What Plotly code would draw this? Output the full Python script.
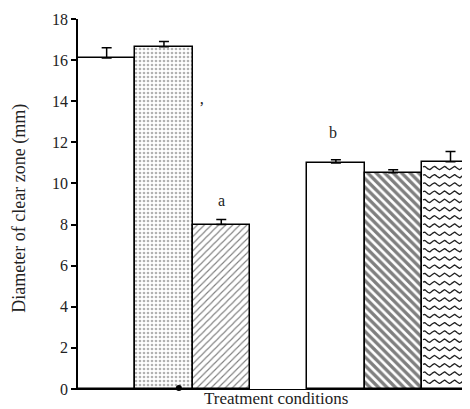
import numpy as np
import plotly.graph_objects as go

# ---- data ----
groups = ["Group 1", "Group 2"]
treatments = ["T1", "T2", "T3"]
means_g1 = [16.1, 16.65, 8.0]
errs_g1 = [0.5, 0.25, 0.25]
means_g2 = [11.0, 10.52, 11.05]
errs_g2 = [0.15, 0.15, 0.5]
letters = ["a", "b"]
y_ticks = [0, 2, 4, 6, 8, 10, 12, 14, 16, 18]

SERIF = "Liberation Serif"

# visual styles per bar
styles = [
    dict(color="white", pattern=dict(shape="")),
    dict(color="white", pattern=dict(shape=".", size=4, solidity=0.35, fgcolor="#666")),
    dict(color="white", pattern=dict(shape="/", size=5, solidity=0.22, fgcolor="#000")),
    dict(color="white", pattern=dict(shape="")),
    dict(color="white", pattern=dict(shape="\\", size=6, solidity=0.55, fgcolor="#000")),
    dict(color="white", pattern=dict(shape="")),
]

means = means_g1 + means_g2
errs = errs_g1 + errs_g2
pos = [g * 4 + i + 0.5 for g in range(len(groups)) for i in range(len(treatments))]

fig = go.Figure()
for k, (x, m, e) in enumerate(zip(pos, means, errs)):
    fig.add_trace(go.Bar(
        x=[x], y=[m], width=1.0,
        marker=dict(color=styles[k]["color"], pattern=styles[k]["pattern"],
                    line=dict(color="black", width=1.5)),
        error_y=dict(type="data", symmetric=False, array=[e], arrayminus=[0],
                     color="black", thickness=1.5, width=5),
        showlegend=False,
    ))

# wavy texture for the last bar
xw0, xw1 = pos[5] - 0.5, pos[5] + 0.5
xs = np.linspace(xw0 + 0.02, xw1 - 0.02, 160)
row_gap = 0.4
rows = np.arange(0.35, means[5] - 0.15, row_gap)
wx, wy = [], []
for r in rows:
    wx += list(xs) + [None]
    wy += list(r + 0.08 * np.sin((xs - xw0) / 0.175 * 2 * np.pi)) + [None]
fig.add_trace(go.Scatter(x=wx, y=wy, mode="lines",
                         line=dict(color="#222", width=1.3), showlegend=False,
                         hoverinfo="skip"))

# scan dot on axis
fig.add_trace(go.Scatter(x=[1.76], y=[0.05], mode="markers",
                         marker=dict(color="black", size=6), showlegend=False,
                         cliponaxis=False))

# page body has an 8px margin: size the figure so the plot lands where the reference is
fig.update_layout(
    width=462, height=401,
    margin=dict(l=70, r=0, t=11, b=20),
    plot_bgcolor="white", paper_bgcolor="white",
    bargap=0,
    font=dict(family=SERIF, size=16, color="#222"),
    xaxis=dict(range=[0, 6.84], showticklabels=False, ticks="",
               showgrid=False, zeroline=False, showline=True,
               linecolor="black", linewidth=1),
    yaxis=dict(range=[0, 18], tickvals=y_ticks, ticks="outside", ticklen=5,
               tickwidth=1.5, tickcolor="black", showgrid=False, zeroline=False,
               showline=True, linecolor="black", linewidth=1.5,
               tickfont=dict(family=SERIF, size=16, color="#222")),
    annotations=[
        dict(x=pos[2], y=means[2] + errs[2] + 0.4, text=letters[0], showarrow=False,
             xref="x", yref="y", yanchor="bottom", font=dict(size=16)),
        dict(x=pos[3] - 0.05, y=means[3] + errs[3] + 0.8, text=letters[1], showarrow=False,
             xref="x", yref="y", yanchor="bottom", font=dict(size=16)),
        dict(x=2.15, y=13.7, text="ʼ", showarrow=False, xref="x", yref="y",
             font=dict(size=16)),
        dict(x=0.505, y=-0.026, xref="paper", yref="paper",
             text="Treatment conditions", showarrow=False, yanchor="middle",
             xanchor="center", font=dict(size=17)),
        dict(x=-0.148, y=0.49, xref="paper", yref="paper",
             text="Diameter of clear zone (mm)", showarrow=False, textangle=-90,
             xanchor="center", yanchor="middle", font=dict(size=18)),
    ],
)
fig.write_html("out.html")
